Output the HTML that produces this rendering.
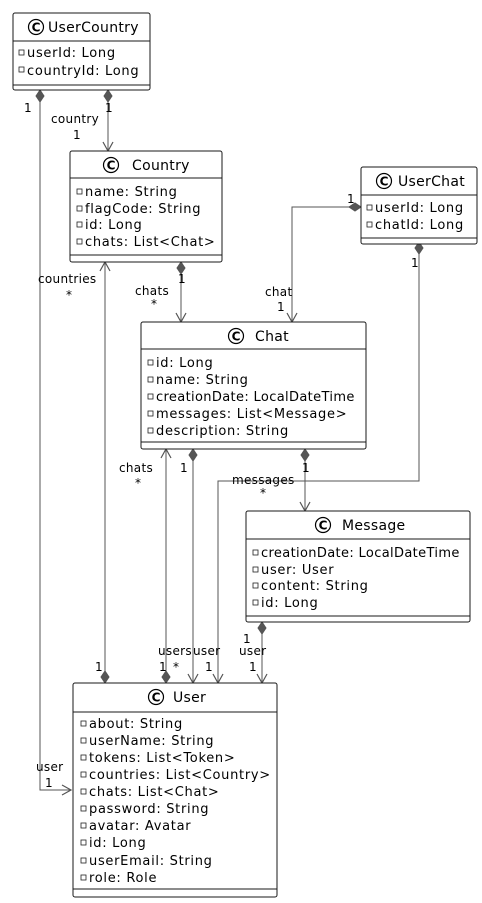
<!DOCTYPE html>
<html><head><meta charset="utf-8"><style>
html,body{margin:0;padding:0;background:#fff;}
svg{display:block;font-family:"DejaVu Sans","Liberation Sans",sans-serif;font-size:13px;}
.b{fill:#fff;stroke:#181818;stroke-width:1;}
.l{stroke:#181818;stroke-width:1;}
.e{stroke:#555;stroke-width:1;fill:none;}
.d{fill:#555;stroke:#555;}
.a{fill:none;stroke:#555;stroke-width:1.2;}
.v{fill:none;stroke:#222;stroke-width:0.8;}
text{fill:#000;}
.at text{letter-spacing:0.7px;}
.t{font-size:14px;}
.lb{font-size:12px;letter-spacing:0.3px;}
</style></head><body>
<svg width="482" height="903" viewBox="0 0 482 903" xmlns="http://www.w3.org/2000/svg">
<path class="e" d="M40,100 V790 H71"/>
<polygon class="d" points="40,90 44,96 40,102 36,96"/>
<path class="a" d="M62,785 L71,790 L62,795"/>
<text class="lb" x="24" y="112">1</text>
<text class="lb" x="36" y="771">user</text>
<text class="lb" x="45" y="787">1</text>
<path class="e" d="M108,100 V151"/>
<polygon class="d" points="108,90 112,96 108,102 104,96"/>
<path class="a" d="M103,142 L108,151 L113,142"/>
<text class="lb" x="105" y="112">1</text>
<text class="lb" x="51" y="123">country</text>
<text class="lb" x="73" y="139">1</text>
<path class="e" d="M105,262 V673"/>
<polygon class="d" points="105,683 109,677 105,671 101,677"/>
<path class="a" d="M100,271 L105,262 L110,271"/>
<text class="lb" x="38" y="283">countries</text>
<text class="lb" x="66" y="299">*</text>
<text class="lb" x="95" y="671">1</text>
<path class="e" d="M181,272 V322"/>
<polygon class="d" points="181,262 185,268 181,274 177,268"/>
<path class="a" d="M176,313 L181,322 L186,313"/>
<text class="lb" x="178" y="283">1</text>
<text class="lb" x="135" y="295">chats</text>
<text class="lb" x="151" y="308">*</text>
<path class="e" d="M351,207 H292 V322"/>
<polygon class="d" points="361,207 355,211 349,207 355,203"/>
<path class="a" d="M287,313 L292,322 L297,313"/>
<text class="lb" x="347" y="203">1</text>
<text class="lb" x="265" y="296">chat</text>
<text class="lb" x="277" y="311">1</text>
<path class="e" d="M419,252 V481 H218 V683"/>
<polygon class="d" points="419,242 423,248 419,254 415,248"/>
<path class="a" d="M213,674 L218,683 L223,674"/>
<text class="lb" x="411" y="267">1</text>
<path class="e" d="M166,449 V673"/>
<polygon class="d" points="166,683 170,677 166,671 162,677"/>
<path class="a" d="M161,458 L166,449 L171,458"/>
<text class="lb" x="119" y="472">chats</text>
<text class="lb" x="135" y="487">*</text>
<text class="lb" x="158" y="655">users</text>
<text class="lb" x="159" y="671">1</text>
<text class="lb" x="173" y="671">*</text>
<path class="e" d="M193,459 V683"/>
<polygon class="d" points="193,449 197,455 193,461 189,455"/>
<path class="a" d="M188,674 L193,683 L198,674"/>
<text class="lb" x="180" y="472">1</text>
<text class="lb" x="193" y="655">user</text>
<text class="lb" x="205" y="671">1</text>
<path class="e" d="M305,459 V511"/>
<polygon class="d" points="305,449 309,455 305,461 301,455"/>
<path class="a" d="M300,502 L305,511 L310,502"/>
<text class="lb" x="302" y="472">1</text>
<text class="lb" x="232" y="484">messages</text>
<text class="lb" x="260" y="497">*</text>
<path class="e" d="M262,632 V683"/>
<polygon class="d" points="262,622 266,628 262,634 258,628"/>
<path class="a" d="M257,674 L262,683 L267,674"/>
<text class="lb" x="243" y="643">1</text>
<text class="lb" x="239" y="655">user</text>
<text class="lb" x="249" y="671">1</text>

<g class="at">
<rect class="b" x="13" y="13" width="137" height="77" rx="2"/>
<line class="l" x1="13" y1="41" x2="150" y2="41"/>
<line class="l" x1="13" y1="85" x2="150" y2="85"/>
<circle cx="36" cy="27" r="7.5" fill="none" stroke="#000" stroke-width="1.2"/>
<text class="t" x="48" y="32" style="letter-spacing:0.3px">UserCountry</text>
<rect class="v" x="19" y="50" width="5" height="5"/><text x="27" y="57">userId: Long</text>
<rect class="v" x="19" y="67" width="5" height="5"/><text x="27" y="75">countryId: Long</text>

<rect class="b" x="70" y="151" width="152" height="111" rx="2"/>
<line class="l" x1="70" y1="178" x2="222" y2="178"/>
<line class="l" x1="70" y1="255" x2="222" y2="255"/>
<circle cx="111" cy="165" r="7.5" fill="none" stroke="#000" stroke-width="1.2"/>
<text class="t" x="132" y="170" style="letter-spacing:0.3px">Country</text>
<rect class="v" x="77" y="189" width="5" height="5"/><text x="85" y="196">name: String</text>
<rect class="v" x="77" y="206" width="5" height="5"/><text x="85" y="213">flagCode: String</text>
<rect class="v" x="77" y="222" width="5" height="5"/><text x="85" y="229">id: Long</text>
<rect class="v" x="77" y="239" width="5" height="5"/><text x="85" y="246">chats: List&lt;Chat&gt;</text>

<rect class="b" x="361" y="167" width="116" height="77" rx="2"/>
<line class="l" x1="361" y1="195" x2="477" y2="195"/>
<line class="l" x1="361" y1="238" x2="477" y2="238"/>
<circle cx="384" cy="181" r="7.5" fill="none" stroke="#000" stroke-width="1.2"/>
<text class="t" x="398" y="186" style="letter-spacing:0.3px">UserChat</text>
<rect class="v" x="367" y="205" width="5" height="5"/><text x="375" y="212">userId: Long</text>
<rect class="v" x="367" y="222" width="5" height="5"/><text x="375" y="229">chatId: Long</text>

<rect class="b" x="141" y="322" width="225" height="127" rx="2"/>
<line class="l" x1="141" y1="349" x2="366" y2="349"/>
<line class="l" x1="141" y1="442" x2="366" y2="442"/>
<circle cx="236" cy="336" r="7.5" fill="none" stroke="#000" stroke-width="1.2"/>
<text class="t" x="255" y="341" style="letter-spacing:0.3px">Chat</text>
<rect class="v" x="148" y="360" width="5" height="5"/><text x="156" y="367">id: Long</text>
<rect class="v" x="148" y="377" width="5" height="5"/><text x="156" y="384">name: String</text>
<rect class="v" x="148" y="394" width="5" height="5"/><text x="156" y="401" style="letter-spacing:0.35px">creationDate: LocalDateTime</text>
<rect class="v" x="148" y="411" width="5" height="5"/><text x="156" y="418">messages: List&lt;Message&gt;</text>
<rect class="v" x="148" y="428" width="5" height="5"/><text x="156" y="435">description: String</text>

<rect class="b" x="246" y="511" width="224" height="111" rx="2"/>
<line class="l" x1="246" y1="539" x2="470" y2="539"/>
<line class="l" x1="246" y1="616" x2="470" y2="616"/>
<circle cx="323" cy="525" r="7.5" fill="none" stroke="#000" stroke-width="1.2"/>
<text class="t" x="342" y="530" style="letter-spacing:0.3px">Message</text>
<rect class="v" x="253" y="550" width="5" height="5"/><text x="261" y="557" style="letter-spacing:0.35px">creationDate: LocalDateTime</text>
<rect class="v" x="253" y="567" width="5" height="5"/><text x="261" y="574">user: User</text>
<rect class="v" x="253" y="583" width="5" height="5"/><text x="261" y="590">content: String</text>
<rect class="v" x="253" y="600" width="5" height="5"/><text x="261" y="607">id: Long</text>

<rect class="b" x="73" y="683" width="204" height="214" rx="2"/>
<line class="l" x1="73" y1="712" x2="277" y2="712"/>
<line class="l" x1="73" y1="889" x2="277" y2="889"/>
<circle cx="156" cy="697" r="7.5" fill="none" stroke="#000" stroke-width="1.2"/>
<text class="t" x="173" y="702" style="letter-spacing:0.3px">User</text>
<rect class="v" x="81" y="721" width="5" height="5"/><text x="89" y="728">about: String</text>
<rect class="v" x="81" y="738" width="5" height="5"/><text x="89" y="745">userName: String</text>
<rect class="v" x="81" y="755" width="5" height="5"/><text x="89" y="762">tokens: List&lt;Token&gt;</text>
<rect class="v" x="81" y="772" width="5" height="5"/><text x="89" y="779">countries: List&lt;Country&gt;</text>
<rect class="v" x="81" y="789" width="5" height="5"/><text x="89" y="796">chats: List&lt;Chat&gt;</text>
<rect class="v" x="81" y="806" width="5" height="5"/><text x="89" y="813">password: String</text>
<rect class="v" x="81" y="823" width="5" height="5"/><text x="89" y="830">avatar: Avatar</text>
<rect class="v" x="81" y="840" width="5" height="5"/><text x="89" y="847">id: Long</text>
<rect class="v" x="81" y="858" width="5" height="5"/><text x="89" y="865">userEmail: String</text>
<rect class="v" x="81" y="875" width="5" height="5"/><text x="89" y="882">role: Role</text>
</g>
<g font-weight="bold" font-size="12" text-anchor="middle">
<text x="36" y="31.5">C</text>
<text x="111" y="169.5">C</text>
<text x="384" y="185.5">C</text>
<text x="236" y="340.5">C</text>
<text x="323" y="529.5">C</text>
<text x="156" y="701.5">C</text>
</g>
</svg>
</body></html>
